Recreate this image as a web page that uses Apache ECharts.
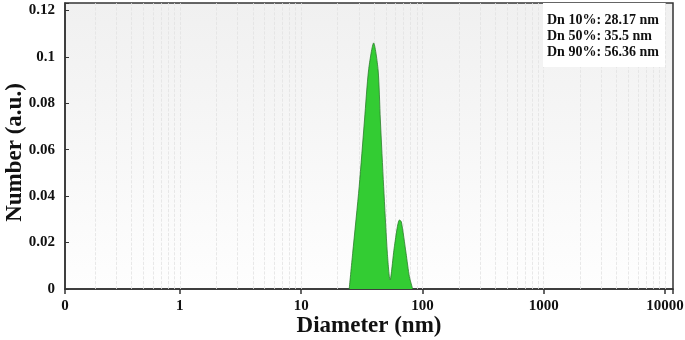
<!DOCTYPE html>
<html>
<head>
<meta charset="utf-8">
<script src="https://cdn.jsdelivr.net/npm/echarts@6/dist/echarts.min.js"></script>
<style>
    html, body { margin: 0; padding: 0; background: #fff; }
    #chart { width: 685px; height: 340px; }
</style>
</head>
<body>
<div id="chart"></div>
<script>
// diameter (nm) and number distribution
var diameters = [24.9, 26.6, 30.1, 33.3, 36.0, 39.6, 43.1, 45.0, 47.9, 51.4, 54.1, 58.7, 64.6, 67.0, 73.3, 78.1, 83.2];
var numbers = [0, 0.0154, 0.0441, 0.0728, 0.0944, 0.106, 0.0944, 0.0728, 0.0441, 0.0154, 0.0039, 0.0182, 0.0297, 0.029, 0.0154, 0.0053, 0];
var dnLabels = ['Dn 10%: 28.17 nm', 'Dn 50%: 35.5 nm', 'Dn 90%: 56.36 nm'];
var xMin = 0.113;
var xMax = 11640;
var yMax = 0.1232;

// vertical grid lines at 1..9 x 10^k
var gridValues = [];
for (var k = -1; k <= 4; k++) {
    for (var m = 1; m <= 9; m++) {
        var v = m * Math.pow(10, k);
        if (v > xMin && v < xMax) gridValues.push(+v.toPrecision(3));
    }
}

var serif = 'Liberation Serif';
var chart = echarts.init(document.getElementById('chart'));
var option = {
    animation: false,
    title: {
        text: dnLabels.join('\n'),
        right: 20,
        top: 3,
        backgroundColor: '#fff',
        padding: [9, 6, 7, 4],
        textStyle: { fontFamily: serif, fontWeight: 'bold', fontSize: 14, lineHeight: 16, color: '#111' }
    },
    grid: {
        left: 65,
        right: 12,
        top: 3,
        bottom: 51,
        containLabel: false,
        outerBoundsMode: 'none',
        show: true,
        borderColor: '#333',
        borderWidth: 1.5,
        backgroundColor: new echarts.graphic.LinearGradient(0, 0, 0, 1, [
            { offset: 0, color: '#f0f0f0' },
            { offset: 1, color: '#fefefe' }
        ])
    },
    xAxis: {
        type: 'log',
        logBase: 10,
        min: xMin,
        max: xMax,
        name: 'Diameter (nm)',
        nameLocation: 'middle',
        nameGap: 26,
        nameMoveOverlap: false,
        nameTextStyle: { fontFamily: serif, fontWeight: 'bold', fontSize: 23, color: '#111' },
        axisLine: { lineStyle: { color: '#333', width: 1.5 } },
        axisTick: { show: true, length: 5, lineStyle: { color: '#333', width: 1.5 } },
        axisLabel: {
            fontFamily: serif, fontWeight: 'bold', fontSize: 15, color: '#111', margin: 10,
            showMinLabel: true, showMaxLabel: true,
            formatter: function (val) {
                if (val < 0.5) return '0';
                if (val > 10001) return '';
                return String(Math.round(val));
            }
        },
        splitLine: { show: false }
    },
    yAxis: {
        type: 'value',
        min: 0,
        max: yMax,
        interval: 0.02,
        name: 'Number (a.u.)',
        nameLocation: 'middle',
        nameGap: 38,
        nameMoveOverlap: false,
        nameTextStyle: { fontFamily: serif, fontWeight: 'bold', fontSize: 23, color: '#111', padding: [0, 13, 0, 0] },
        axisLine: { show: true, lineStyle: { color: '#333', width: 1.5 } },
        axisTick: { show: true, inside: true, length: 4, lineStyle: { color: '#333' } },
        axisLabel: {
            fontFamily: serif, fontWeight: 'bold', fontSize: 15, color: '#111', margin: 10,
            showMaxLabel: true,
            formatter: function (val) {
                if (val > 0.1201) return '';
                return String(+val.toFixed(2));
            }
        },
        splitLine: { show: false }
    },
    series: [
        {
            // grid lines only, kept behind the area
            type: 'line',
            data: [],
            z: 1,
            markLine: {
                silent: true,
                symbol: 'none',
                label: { show: false },
                lineStyle: { color: '#e2e2e2', type: 'dashed', width: 0.8 },
                data: gridValues.map(function (v) { return { xAxis: v }; })
            }
        },
        {
            type: 'line',
            data: diameters.map(function (d, i) { return [d, numbers[i]]; }),
            symbol: 'none',
            smooth: 0.25,
            lineStyle: { color: '#2d7d2d', width: 0.8 },
            areaStyle: { color: '#33cc33', opacity: 1 },
            z: 5
        }
    ]
};
chart.setOption(option);
</script>
</body>
</html>
